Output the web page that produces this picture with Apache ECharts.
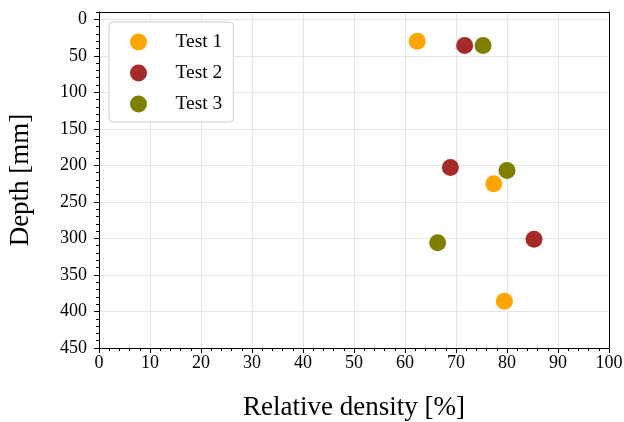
<!DOCTYPE html>
<html>
<head>
<meta charset="utf-8">
<script src="https://cdn.jsdelivr.net/npm/echarts@6/dist/echarts.min.js"></script>
<style>
html,body{margin:0;padding:0;background:#fff;}
#chart{width:624px;height:422px;}
</style>
</head>
<body>
<div id="chart"></div>
<script>
// Data: [relative density %, depth mm]
var seriesNames = ['Test 1', 'Test 2', 'Test 3'];
var test1 = [[62.4, 30], [77.4, 225], [79.5, 386]];
var test2 = [[71.7, 36], [68.9, 203], [85.3, 301]];
var test3 = [[75.3, 36], [80.0, 207], [66.4, 306]];
var seriesColors = ['#FFA500', '#A52A2A', '#808000'];
var depthTicks = [0, 50, 100, 150, 200, 250, 300, 350, 400, 450];
var depthMin = -10, depthMax = 450;
var densityMin = 0, densityMax = 100, densityStep = 10;

var FONT = "'Liberation Serif', 'Times New Roman', serif";
var chart = echarts.init(document.getElementById('chart'), null, {renderer: 'canvas'});
var allData = [test1, test2, test3];

var frameAxis = {
  axisLine: {show: true, onZero: false, lineStyle: {color: '#000', width: 1}},
  axisTick: {show: false}, axisLabel: {show: false}, splitLine: {show: false}
};

var option = {
  backgroundColor: '#ffffff',
  animation: false,
  grid: {
    left: 99, right: 15, top: 12, bottom: 74,
    show: false,
    outerBoundsMode: 'none', containLabel: false
  },
  legend: {
    orient: 'vertical',
    left: 109, top: 22,
    data: seriesNames,
    backgroundColor: '#fff',
    borderColor: '#cccccc', borderWidth: 1, borderRadius: 4,
    padding: [10, 11, 8, 21],
    itemWidth: 40, itemHeight: 17, itemGap: 11,
    textStyle: {fontFamily: FONT, fontSize: 19.5, color: '#000', lineHeight: 20, padding: [0, 0, 0, 12]}
  },
  xAxis: [{
    type: 'value',
    min: densityMin, max: densityMax, interval: densityStep,
    name: 'Relative density [%]',
    nameLocation: 'middle', nameGap: 46,
    nameTextStyle: {fontFamily: FONT, fontSize: 27, color: '#000'},
    axisLine: {show: true, onZero: false, lineStyle: {color: '#000', width: 1}},
    axisTick: {show: true, inside: false, length: 5, lineStyle: {color: '#000'}},
    minorTick: {show: true, splitNumber: 5, length: 3, lineStyle: {color: '#000'}},
    axisLabel: {fontFamily: FONT, fontSize: 18, color: '#000', margin: 6, showMinLabel: true, showMaxLabel: true},
    splitLine: {show: true, lineStyle: {color: '#e5e5e5', width: 1}}
  }, Object.assign({
    type: 'value', position: 'top',
    min: densityMin, max: densityMax, interval: densityStep
  }, frameAxis)],
  yAxis: [{
    type: 'value',
    inverse: true,
    min: depthMin, max: depthMax, splitNumber: 9,
    name: 'Depth [mm]',
    nameLocation: 'middle', nameGap: 65,
    nameTextStyle: {fontFamily: FONT, fontSize: 27, color: '#000'},
    axisLine: {show: true, onZero: false, lineStyle: {color: '#000', width: 1}},
    axisTick: {show: true, inside: false, length: 5, customValues: depthTicks, lineStyle: {color: '#000'}},
    axisLabel: {fontFamily: FONT, fontSize: 18, color: '#000', margin: 12, customValues: depthTicks},
    splitLine: {show: true, lineStyle: {color: '#e5e5e5', width: 1}}
  }, {
    type: 'value',
    inverse: true,
    position: 'left',
    min: depthMin, max: depthMax, interval: 10,
    axisLine: {show: false},
    axisTick: {show: true, inside: false, length: 3, lineStyle: {color: '#000'}},
    axisLabel: {show: false},
    splitLine: {show: false}
  }, Object.assign({
    type: 'value', position: 'right', inverse: true,
    min: depthMin, max: depthMax, interval: 10
  }, frameAxis)],
  series: seriesNames.map(function (n, i) {
    return {
      name: n,
      type: 'scatter',
      xAxisIndex: 0, yAxisIndex: 0,
      symbol: 'circle',
      symbolSize: 17,
      z: 5,
      itemStyle: {color: seriesColors[i], opacity: 1},
      data: allData[i]
    };
  })
};
chart.setOption(option);
</script>
</body>
</html>
